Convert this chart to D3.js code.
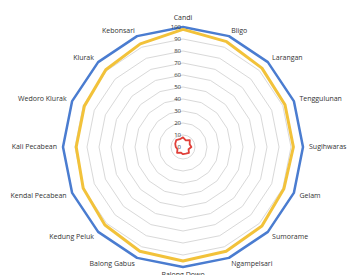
<!DOCTYPE html>
<html lang="en">
<head>
  <meta charset="UTF-8">
  <title>radar</title>
  <style>
    html, body { margin: 0; padding: 0; background: #fff; }
    text { font-family: "Open Sans", "DejaVu Sans", sans-serif; fill: #333; }
  </style>
  <script src="https://cdn.jsdelivr.net/npm/d3@7"></script>
</head>
<body>
<svg id="chart" width="347" height="275"></svg>
<script>
  // data
  const categories = ["Candi", "Bligo", "Larangan", "Tenggulunan", "Sugihwaras", "Gelam",
    "Sumorame", "Ngampelsari", "Balong Dowo", "Balong Gabus", "Kedung Peluk",
    "Kendal Pecabean", "Kali Pecabean", "Wedoro Klurak", "Klurak", "Kebonsari"];
  const seriesBlue = [100, 100, 100, 100, 100, 100, 100, 100, 100, 100, 100, 100, 100, 100, 100, 100];
  const seriesGold = [98, 95, 93, 92, 92, 91, 93, 94, 95, 94, 92, 90, 89, 89, 91, 93];
  const seriesRed = [8, 6, 8, 6, 7, 5, 7, 6, 6, 5, 7, 5, 6, 7, 8, 7];
  const ticks = [0, 10, 20, 30, 40, 50, 60, 70, 80, 90, 100];

  const cx = 183, cy = 147, R = 120;
  const svg = d3.select('#chart');
  const g = svg.append('g').attr('transform', `translate(${cx},${cy})`);

  const r = d3.scaleLinear().domain([0, 100]).range([0, R]);
  const angle = d3.scalePoint().domain(categories).range([0, 2 * Math.PI * (1 - 1 / categories.length)]);

  const radial = d3.lineRadial()
    .angle((d, i) => angle(categories[i]))
    .radius(d => r(d))
    .curve(d3.curveLinearClosed);

  // grid rings
  g.selectAll('path.grid')
    .data(ticks.filter(t => t > 0))
    .join('path')
    .attr('class', 'grid')
    .attr('d', t => radial(categories.map(() => t)))
    .attr('fill', 'none')
    .attr('stroke', '#d9d9d9')
    .attr('stroke-width', 1);

  // series
  const series = [
    {values: seriesBlue, color: '#4a7cd0', width: 2.5},
    {values: seriesGold, color: '#f2c23a', width: 3},
    {values: seriesRed, color: '#e0403a', width: 1.8}
  ];
  g.selectAll('path.series')
    .data(series)
    .join('path')
    .attr('class', 'series')
    .attr('d', s => radial(s.values))
    .attr('fill', 'none')
    .attr('stroke', s => s.color)
    .attr('stroke-width', s => s.width)
    .attr('stroke-linejoin', 'round');

  // tick labels along the top axis
  g.selectAll('text.tick')
    .data(ticks)
    .join('text')
    .attr('class', 'tick')
    .attr('x', -2)
    .attr('y', t => -r(t))
    .attr('dy', '0.35em')
    .attr('text-anchor', 'end')
    .style('font-size', '6px')
    .text(t => t);

  // category labels
  g.selectAll('text.cat')
    .data(categories)
    .join('text')
    .attr('class', 'cat')
    .each(function (c) {
      const a = angle(c);
      const s = Math.sin(a), k = -Math.cos(a);
      const rr = R + 6;
      const x = rr * s, y = rr * k;
      const anchor = Math.abs(s) < 0.1 ? 'middle' : (s > 0 ? 'start' : 'end');
      let dy = '0.35em';
      if (Math.abs(s) < 0.1) dy = k < 0 ? '-0.1em' : '0.6em';
      d3.select(this)
        .attr('x', x)
        .attr('y', y)
        .attr('dy', dy)
        .attr('text-anchor', anchor);
    })
    .style('font-size', '7px')
    .text(c => c);
</script>
</body>
</html>
